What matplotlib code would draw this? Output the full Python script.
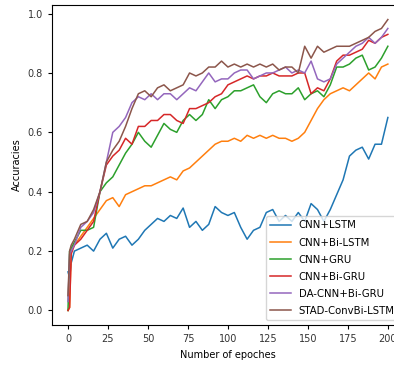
import matplotlib
matplotlib.use("Agg")
import matplotlib.pyplot as plt

epochs = [0, 1, 2] + list(range(4, 201, 4))

cnn_lstm = [0.13, 0.11, 0.16, 0.20, 0.21, 0.22, 0.20, 0.24, 0.26, 0.21, 0.24, 0.25, 0.22,
            0.24, 0.27, 0.29, 0.31, 0.30, 0.32, 0.31, 0.345, 0.28, 0.30, 0.27, 0.29, 0.35,
            0.33, 0.32, 0.33, 0.28, 0.24, 0.27, 0.28, 0.33, 0.34, 0.30, 0.32, 0.30, 0.33,
            0.30, 0.36, 0.34, 0.30, 0.34, 0.39, 0.44, 0.52, 0.54, 0.55, 0.51, 0.56, 0.56, 0.65]

cnn_bilstm = [0.0, 0.01, 0.20, 0.22, 0.25, 0.28, 0.31, 0.34, 0.37, 0.38, 0.35, 0.39, 0.40,
              0.41, 0.42, 0.42, 0.43, 0.44, 0.45, 0.44, 0.47, 0.48, 0.50, 0.52, 0.54, 0.56,
              0.57, 0.57, 0.58, 0.57, 0.59, 0.58, 0.59, 0.58, 0.59, 0.58, 0.58, 0.57, 0.58,
              0.60, 0.64, 0.68, 0.71, 0.73, 0.74, 0.75, 0.74, 0.76, 0.78, 0.80, 0.78, 0.82, 0.83]

cnn_gru = [0.0, 0.20, 0.21, 0.23, 0.27, 0.27, 0.28, 0.40, 0.43, 0.45, 0.49, 0.53, 0.56,
           0.60, 0.57, 0.55, 0.59, 0.63, 0.61, 0.60, 0.64, 0.66, 0.64, 0.66, 0.71, 0.68,
           0.71, 0.72, 0.74, 0.74, 0.75, 0.76, 0.72, 0.70, 0.73, 0.74, 0.73, 0.73, 0.75,
           0.71, 0.73, 0.74, 0.72, 0.76, 0.82, 0.82, 0.83, 0.85, 0.86, 0.81, 0.82, 0.85, 0.89]

cnn_bigru = [0.0, 0.01, 0.19, 0.22, 0.24, 0.27, 0.30, 0.40, 0.49, 0.52, 0.54, 0.58, 0.56,
             0.62, 0.62, 0.64, 0.64, 0.66, 0.66, 0.64, 0.63, 0.68, 0.68, 0.69, 0.70, 0.72,
             0.73, 0.76, 0.77, 0.78, 0.79, 0.78, 0.79, 0.79, 0.80, 0.79, 0.79, 0.79, 0.80,
             0.80, 0.73, 0.75, 0.74, 0.78, 0.84, 0.86, 0.86, 0.87, 0.88, 0.91, 0.90, 0.92, 0.93]

da_cnn_bigru = [0.03, 0.19, 0.20, 0.22, 0.28, 0.30, 0.33, 0.40, 0.50, 0.60, 0.62, 0.65, 0.70,
                0.72, 0.71, 0.73, 0.71, 0.73, 0.73, 0.71, 0.73, 0.75, 0.74, 0.77, 0.80, 0.77,
                0.78, 0.78, 0.80, 0.81, 0.81, 0.78, 0.79, 0.80, 0.80, 0.81, 0.82, 0.80, 0.81,
                0.80, 0.84, 0.78, 0.77, 0.78, 0.83, 0.85, 0.87, 0.89, 0.90, 0.92, 0.90, 0.92, 0.95]

stad_convbilstm = [0.05, 0.20, 0.22, 0.24, 0.29, 0.30, 0.34, 0.40, 0.50, 0.54, 0.57, 0.62, 0.68,
                   0.73, 0.74, 0.72, 0.75, 0.76, 0.74, 0.75, 0.76, 0.80, 0.79, 0.80, 0.82, 0.82,
                   0.84, 0.82, 0.83, 0.82, 0.83, 0.82, 0.83, 0.82, 0.83, 0.81, 0.82, 0.82, 0.80,
                   0.89, 0.85, 0.89, 0.87, 0.88, 0.89, 0.89, 0.89, 0.90, 0.91, 0.92, 0.94, 0.95, 0.98]

labels = ["CNN+LSTM", "CNN+Bi-LSTM", "CNN+GRU", "CNN+Bi-GRU", "DA-CNN+Bi-GRU", "STAD-ConvBi-LSTM"]
series = [cnn_lstm, cnn_bilstm, cnn_gru, cnn_bigru, da_cnn_bigru, stad_convbilstm]

plt.rcParams["font.size"] = 7

fig = plt.figure(figsize=(3.94, 3.67), dpi=100)
# axes run past the right edge of the figure, as in the original
ax = fig.add_axes([0.132, 0.1144, 0.893, 0.872])

for vals, lab in zip(series, labels):
    ax.plot(epochs, vals, label=lab, linewidth=1.1)

ax.set_xlim(-10, 210)
ax.set_ylim(-0.049, 1.029)
ax.set_xticks([0, 25, 50, 75, 100, 125, 150, 175, 200])
ax.set_yticks([0.0, 0.2, 0.4, 0.6, 0.8, 1.0])
ax.tick_params(length=3, labelcolor="#333333")
ax.set_xlabel("Number of epoches")
ax.set_ylabel("Accuracies")
ax.legend(loc="lower right", fontsize=7.3, labelspacing=0.7)

fig.savefig("out.png", dpi=100)
